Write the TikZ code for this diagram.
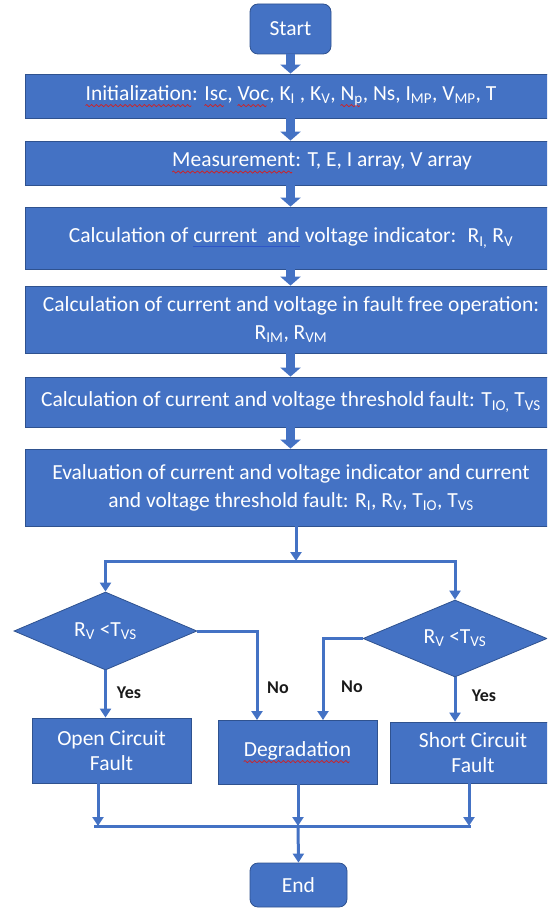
\documentclass[tikz,border=0pt]{standalone}
\usepackage{fontspec}
\setmainfont{Carlito}
\usetikzlibrary{arrows.meta,shapes.geometric,calc}
\definecolor{boxblue}{HTML}{4472C4}
\definecolor{boxedge}{HTML}{2F528F}
\definecolor{wavered}{HTML}{D42020}
\definecolor{ulblue}{HTML}{2E56C8}
\definecolor{lbltext}{HTML}{1A1A1A}
\newsavebox\wavebox
\newsavebox\wtextbox
\newcommand\redwave[1]{\sbox\wtextbox{#1}\rlap{\raisebox{-6.5pt}{\hbox to\wd\wtextbox{\leaders\copy\wavebox\hfill}}}\usebox\wtextbox}
\newcommand\blueul[1]{\sbox\wtextbox{#1}\rlap{\textcolor{ulblue}{\rule[-4.5pt]{\wd\wtextbox}{1.3pt}}}\usebox\wtextbox}
\newcommand\sbs[1]{\textsubscript{#1}}
\begin{document}
\sbox\wavebox{\pgfpicture
\pgfsetlinewidth{0.7pt}\pgfsetstrokecolor{wavered}%
\pgfpathmoveto{\pgfpoint{0pt}{0pt}}%
\pgfpathsine{\pgfpoint{1.2pt}{1.1pt}}%
\pgfpathcosine{\pgfpoint{1.2pt}{-1.1pt}}%
\pgfpathsine{\pgfpoint{1.2pt}{-1.1pt}}%
\pgfpathcosine{\pgfpoint{1.2pt}{1.1pt}}%
\pgfusepath{stroke}%
\pgfresetboundingbox
\pgfpathrectangle{\pgfpoint{0pt}{-1.1pt}}{\pgfpoint{4.8pt}{2.2pt}}%
\pgfusepath{use as bounding box}%
\endpgfpicture}%
\begin{tikzpicture}[x=1pt,y=-1pt,
  box/.style={rectangle, fill=boxblue, draw=boxedge, line width=0.8pt, text=white,
    font=\fontsize{21.5}{28}\selectfont, align=center, inner sep=0pt},
  smallbox/.style={box, font=\fontsize{21.5}{25}\selectfont},
  term/.style={box, rounded corners=8pt},
  dec/.style={diamond, aspect=2.35, fill=boxblue, draw=boxedge, line width=0.8pt, text=white,
    font=\fontsize{21.5}{26}\selectfont, inner sep=0pt, minimum width=183pt, minimum height=78pt},
  lbl/.style={text=lbltext, font=\fontsize{18}{21}\selectfont\bfseries, inner sep=0pt},
  blk/.style={draw=boxblue, line width=9pt, -{Triangle[width=20pt,length=9pt]}},
  ln/.style={draw=boxblue, line width=3pt},
  arr/.style={ln, -{Triangle[width=11pt,length=9pt]}}]
\useasboundingbox (0,0) rectangle (547,909);
\clip (0,0) rectangle (547,909);

% process boxes
\node[term, minimum width=81pt, minimum height=50pt] (start) at (290.5,29) {Start};
\node[box, minimum width=532pt, minimum height=44pt] (init) at (291,96)
  {\redwave{Initialization}: \redwave{Isc}, \redwave{Voc}, K\sbs{I} , K\sbs{V}, \redwave{N\sbs{p}}, Ns, I\sbs{MP}, V\sbs{MP}, T};
\node[box, minimum width=532pt, minimum height=44pt] (meas) at (291,163)
  {\hspace*{62pt}\redwave{Measurement}: T, E, I array, V array};
\node[box, minimum width=532pt, minimum height=62pt] (calc1) at (291,238)
  {Calculation of \blueul{current~ and} voltage indicator:~ R\sbs{I,} R\sbs{V}};
\node[box, minimum width=532pt, minimum height=67pt] (calc2) at (291,319.5)
  {Calculation of current and voltage in fault free operation:\\ R\sbs{IM}, R\sbs{VM}};
\node[box, minimum width=532pt, minimum height=50pt] (calc3) at (291,402)
  {Calculation of current and voltage threshold fault: T\sbs{IO,} T\sbs{VS}};
\node[box, minimum width=532pt, minimum height=77pt] (eval) at (291,487.5)
  {Evaluation of current and voltage indicator and current\\ and voltage threshold fault: R\sbs{I}, R\sbs{V}, T\sbs{IO}, T\sbs{VS}};

% decisions
\node[dec] (d1) at (105.5,631) {R\sbs{V} <T\sbs{VS}};
\node[dec, minimum width=184pt, minimum height=77pt] (d2) at (455,638.5) {R\sbs{V} <T\sbs{VS}};

% outcomes
\node[smallbox, minimum width=159pt, minimum height=65pt] (oc) at (111.5,750.5) {Open Circuit\\Fault};
\node[smallbox, minimum width=159pt, minimum height=64pt] (deg) at (297.5,752) {\redwave{Degradation}};
\node[smallbox, minimum width=166pt, minimum height=61pt] (sc) at (473,752.5) {Short Circuit\\Fault};
\node[term, minimum width=97pt, minimum height=44pt] (end) at (298.5,885) {End};

% labels
\node[lbl] (yes1) at (129,693) {Yes};
\node[lbl] (no1) at (278,688) {No};
\node[lbl] (no2) at (352,687) {No};
\node[lbl] (yes2) at (484,696) {Yes};

% block arrows
\draw[blk] (start.south) -- (init.north -| start.south);
\draw[blk] (init.south -| start.south) -- (meas.north -| start.south);
\draw[blk] (meas.south -| start.south) -- (calc1.north -| start.south);
\draw[blk] (calc1.south -| start.south) -- (calc2.north -| start.south);
\draw[blk] (calc2.south -| start.south) -- (calc3.north -| start.south);
\draw[blk] (calc3.south -| start.south) -- (eval.north -| start.south);

% split to decisions
\coordinate (split) at (296,561);
\draw[arr] (eval.south -| split) -- (split);
\draw[ln] ([xshift=-1.5pt]d1.north |- split) -- ([xshift=1.5pt]d2.north |- split);
\draw[arr] (d1.north |- split) -- (d1.north);
\draw[arr] (d2.north |- split) -- (d2.north);

% decision branches
\coordinate (degL) at (257,720);
\coordinate (degR) at (323,720);
\draw[arr] (d1.east) -| (degL);
\draw[arr] (d2.west) -| (degR);
\draw[arr] (d1.south) -- (d1.south |- oc.north);
\draw[arr] (d2.south) -- (d2.south |- sc.north);

% join to end
\coordinate (j1) at (98,826);
\coordinate (j2) at (298,826);
\coordinate (j3) at (469,826);
\draw[arr] (oc.south -| j1) -- (j1);
\draw[arr] (deg.south -| j2) -- (j2);
\draw[arr] (sc.south -| j3) -- (j3);
\draw[ln] ([xshift=-4pt]j1) -- ([xshift=1.5pt]j3);
\draw[arr] (j2) -- (end.north);
\end{tikzpicture}
\end{document}
